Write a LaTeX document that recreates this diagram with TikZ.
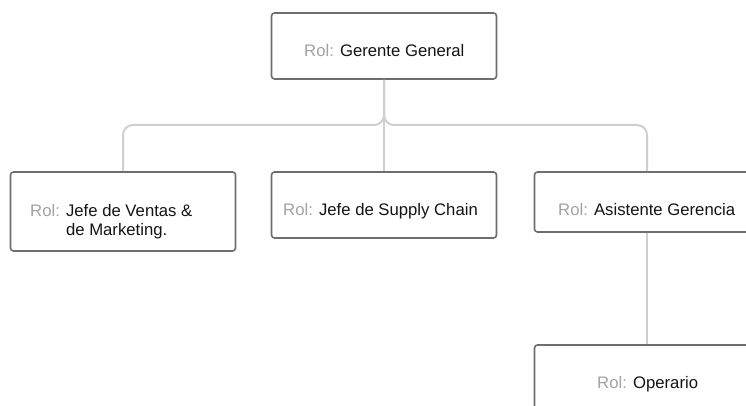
\documentclass[tikz,border=0pt]{standalone}
\usepackage{fontspec}
\setmainfont{Liberation Sans}
\definecolor{boxline}{HTML}{6E6E6E}
\definecolor{linkline}{HTML}{CFCFCF}
\definecolor{rolgray}{HTML}{A3A3A3}
\definecolor{ink}{HTML}{141414}
\newcommand{\rolword}{\textcolor{rolgray}{Rol:}}
\begin{document}
\begin{tikzpicture}[x=1pt,y=-1pt,
  rolebox/.style={draw=boxline, line width=1.6pt, rounded corners=3pt, fill=white,
    minimum width=225pt, inner sep=0pt},
  roletext/.style={anchor=base west, inner sep=0pt, text=ink,
    font=\fontsize{16.7}{19.5}\selectfont},
  link/.style={draw=linkline, line width=2pt, rounded corners=10pt}]
\useasboundingbox (0,0) rectangle (746,406);
\clip (0,0) rectangle (746,406);
\fill[white] (0,0) rectangle (746,406);

% bus line height shared by the first level of links
\coordinate (bus) at (0,125);

% boxes
\node[rolebox, minimum height=66pt] (g) at (384,46) {};
\node[rolebox, minimum height=79pt] (ventas) at (123,211.5) {};
\node[rolebox, minimum height=66pt] (supply) at (384,205) {};
\node[rolebox, minimum height=60pt] (asist) at (647,202) {};
\node[rolebox, minimum height=66pt] (oper) at (647,378) {};

% links
\draw[link] (g.south) -- (g.south |- bus) -| (ventas.north);
\draw[link] (g.south) -- (g.south |- bus) -| (asist.north);
\draw[link] (g.south) -- (supply.north);
\draw[link] (asist.south) -- (oper.north);

% labels
\node[roletext] (gt) at (304,56.5) {\rolword{} Gerente General};
\node[roletext] (vt) at (30,216) {\rolword{} \begin{tabular}[t]{@{}l@{}}Jefe de Ventas \&\\de Marketing.\end{tabular}};
\node[roletext] (st) at (283,215) {\rolword{} Jefe de Supply Chain};
\node[roletext] (at) at (558,215) {\rolword{} Asistente Gerencia};
\node[roletext] (ot) at (597,388) {\rolword{} Operario};
\end{tikzpicture}
\end{document}
